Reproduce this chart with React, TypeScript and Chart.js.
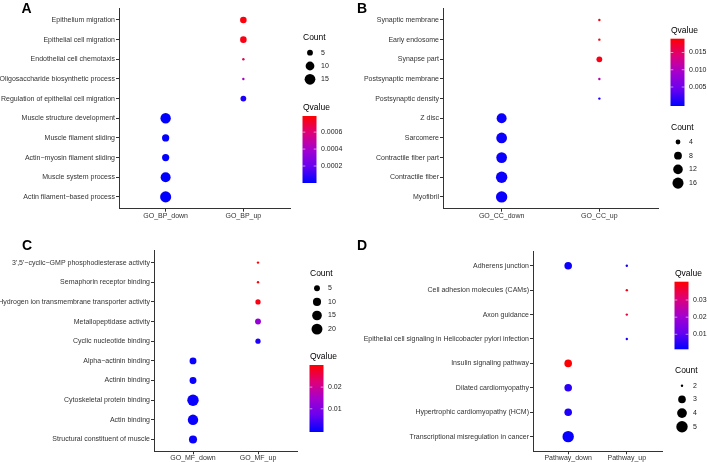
import React, { useEffect, useRef } from "react";
import { Chart, registerables } from "chart.js";
Chart.register(...registerables);

const FONT = "'Liberation Sans', Arial, Helvetica, sans-serif";

// ---------- Panel A : GO BP ----------
const bpTerms = [
  "Epithelium migration",
  "Epithelial cell migration",
  "Endothelial cell chemotaxis",
  "Oligosaccharide biosynthetic process",
  "Regulation of epithelial cell migration",
  "Muscle structure development",
  "Muscle filament sliding",
  "Actin\u2212myosin filament sliding",
  "Muscle system process",
  "Actin filament\u2212based process",
];
const bpGroups = ["GO_BP_down", "GO_BP_up"];
const bpPointTerm = bpTerms;
const bpPointGroup = ["GO_BP_up", "GO_BP_up", "GO_BP_up", "GO_BP_up", "GO_BP_up", "GO_BP_down", "GO_BP_down", "GO_BP_down", "GO_BP_down", "GO_BP_down"];
const bpCount = [6, 6, 3, 3, 5, 14, 7, 7, 13, 16];
const bpQvalue = [0.00077, 0.00076, 0.00066, 0.00040, 0.00005, 0.000002, 0.000003, 0.000004, 0.000002, 0.000001];
const bpCountBreaks = [5, 10, 15];
const bpQBreaks = [0.0002, 0.0004, 0.0006];
const bpQLabels = ["0.0002", "0.0004", "0.0006"];

// ---------- Panel B : GO CC ----------
const ccTerms = [
  "Synaptic membrane",
  "Early endosome",
  "Synapse part",
  "Postsynaptic membrane",
  "Postsynaptic density",
  "Z disc",
  "Sarcomere",
  "Contractile fiber part",
  "Contractile fiber",
  "Myofibril",
];
const ccGroups = ["GO_CC_down", "GO_CC_up"];
const ccPointTerm = ccTerms;
const ccPointGroup = ["GO_CC_up", "GO_CC_up", "GO_CC_up", "GO_CC_up", "GO_CC_up", "GO_CC_down", "GO_CC_down", "GO_CC_down", "GO_CC_down", "GO_CC_down"];
const ccCount = [3, 3, 5, 3, 3, 13, 15, 15, 17, 17];
const ccQvalue = [0.0186, 0.0184, 0.0181, 0.0110, 0.0008, 0.00001, 0.00001, 0.00001, 0.00001, 0.00001];
const ccCountBreaks = [4, 8, 12, 16];
const ccQBreaks = [0.005, 0.01, 0.015];
const ccQLabels = ["0.005", "0.010", "0.015"];

// ---------- Panel C : GO MF ----------
const mfTerms = [
  "3',5'\u2212cyclic\u2212GMP phosphodiesterase activity",
  "Semaphorin receptor binding",
  "Hydrogen ion transmembrane transporter activity",
  "Metallopeptidase activity",
  "Cyclic nucleotide binding",
  "Alpha\u2212actinin binding",
  "Actinin binding",
  "Cytoskeletal protein binding",
  "Actin binding",
  "Structural constituent of muscle",
];
const mfGroups = ["GO_MF_down", "GO_MF_up"];
const mfPointTerm = mfTerms;
const mfPointGroup = ["GO_MF_up", "GO_MF_up", "GO_MF_up", "GO_MF_up", "GO_MF_up", "GO_MF_down", "GO_MF_down", "GO_MF_down", "GO_MF_down", "GO_MF_down"];
const mfCount = [2, 2, 4, 5, 4, 7, 7, 22, 18, 10];
const mfQvalue = [0.0300, 0.0297, 0.0290, 0.0125, 0.0015, 0.00001, 0.00001, 0.000001, 0.000001, 0.00001];
const mfCountBreaks = [5, 10, 15, 20];
const mfQBreaks = [0.01, 0.02];
const mfQLabels = ["0.01", "0.02"];

// ---------- Panel D : Pathway ----------
const pwTerms = [
  "Adherens junction",
  "Cell adhesion molecules (CAMs)",
  "Axon guidance",
  "Epithelial cell signaling in Helicobacter pylori infection",
  "Insulin signaling pathway",
  "Dilated cardiomyopathy",
  "Hypertrophic cardiomyopathy (HCM)",
  "Transcriptional misregulation in cancer",
];
const pwGroups = ["Pathway_down", "Pathway_up"];
const pwPointTerm = [
  "Adherens junction",
  "Adherens junction",
  "Cell adhesion molecules (CAMs)",
  "Axon guidance",
  "Epithelial cell signaling in Helicobacter pylori infection",
  "Insulin signaling pathway",
  "Dilated cardiomyopathy",
  "Hypertrophic cardiomyopathy (HCM)",
  "Transcriptional misregulation in cancer",
];
const pwPointGroup = ["Pathway_down", "Pathway_up", "Pathway_up", "Pathway_up", "Pathway_up", "Pathway_down", "Pathway_down", "Pathway_down", "Pathway_down"];
const pwCount = [3, 2, 2, 2, 2, 3, 3, 3, 5];
const pwQvalue = [0.0025, 0.0030, 0.0392, 0.0355, 0.0032, 0.0405, 0.0052, 0.0040, 0.0020];
const pwCountBreaks = [2, 3, 4, 5];
const pwQBreaks = [0.01, 0.02, 0.03];
const pwQLabels = ["0.01", "0.02", "0.03"];

// ---------- colour / size scales ----------
const STOPS: [number, number[]][] = [
  [0, [0, 0, 255]],
  [0.25, [105, 0, 240]],
  [0.5, [165, 0, 205]],
  [0.75, [222, 0, 120]],
  [1, [255, 0, 0]],
];
function colorAt(t: number) {
  t = Math.max(0, Math.min(1, t));
  for (let i = 1; i < STOPS.length; i++) {
    const [t1, c1] = STOPS[i];
    const [t0, c0] = STOPS[i - 1];
    if (t <= t1) {
      const f = (t - t0) / (t1 - t0);
      const c = c0.map((v, k) => Math.round(v + (c1[k] - v) * f));
      return `rgb(${c[0]},${c[1]},${c[2]})`;
    }
  }
  return "rgb(255,0,0)";
}
const R_MIN = 1.2;
const R_MAX = 5.7;
function radiusOf(c: number, lim: number[]) {
  const f = Math.max(0, Math.min(1, (c - lim[0]) / (lim[1] - lim[0])));
  return R_MIN + (R_MAX - R_MIN) * Math.sqrt(f);
}

type Panel = {
  letter: string;
  letterPos: number[];
  box: { left: number; top: number; width: number; height: number };
  area: { left: number; right: number; top: number; bottom: number };
  terms: string[];
  groups: string[];
  pointTerm: string[];
  pointGroup: string[];
  count: number[];
  qvalue: number[];
  countLim: number[];
  qLim: number[];
  countBreaks: number[];
  qBreaks: number[];
  qLabels: string[];
  legend: {
    x: number;
    count: { titleY: number; firstY: number; step: number };
    q: { titleY: number; top: number; bottom: number };
  };
};

const panels: Panel[] = [
  {
    letter: "A",
    letterPos: [21.5, 12.8],
    box: { left: 0, top: 0, width: 357, height: 228 },
    area: { left: 119, right: 290, top: 8.2, bottom: 208.7 },
    terms: bpTerms, groups: bpGroups, pointTerm: bpPointTerm, pointGroup: bpPointGroup,
    count: bpCount, qvalue: bpQvalue, countLim: [3, 17], qLim: [0, 0.00079],
    countBreaks: bpCountBreaks, qBreaks: bpQBreaks, qLabels: bpQLabels,
    legend: { x: 303, count: { titleY: 38, firstY: 52.7, step: 13.3 }, q: { titleY: 108, top: 116, bottom: 183 } },
  },
  {
    letter: "B",
    letterPos: [357, 12.8],
    box: { left: 357, top: 0, width: 350, height: 228 },
    area: { left: 443, right: 658, top: 8.2, bottom: 208.7 },
    terms: ccTerms, groups: ccGroups, pointTerm: ccPointTerm, pointGroup: ccPointGroup,
    count: ccCount, qvalue: ccQvalue, countLim: [3, 17], qLim: [-0.0005, 0.019],
    countBreaks: ccCountBreaks, qBreaks: ccQBreaks, qLabels: ccQLabels,
    legend: { x: 671, q: { titleY: 31, top: 38.7, bottom: 106 }, count: { titleY: 128, firstY: 142, step: 13.7 } },
  },
  {
    letter: "C",
    letterPos: [22, 249.5],
    box: { left: 0, top: 228, width: 357, height: 234 },
    area: { left: 154, right: 297, top: 250.8, bottom: 451.3 },
    terms: mfTerms, groups: mfGroups, pointTerm: mfPointTerm, pointGroup: mfPointGroup,
    count: mfCount, qvalue: mfQvalue, countLim: [2, 22], qLim: [-0.0007, 0.0302],
    countBreaks: mfCountBreaks, qBreaks: mfQBreaks, qLabels: mfQLabels,
    legend: { x: 310, count: { titleY: 274, firstY: 288.3, step: 13.6 }, q: { titleY: 357, top: 365, bottom: 432 } },
  },
  {
    letter: "D",
    letterPos: [357, 250.3],
    box: { left: 357, top: 228, width: 350, height: 234 },
    area: { left: 533, right: 662, top: 251.1, bottom: 451.3 },
    terms: pwTerms, groups: pwGroups, pointTerm: pwPointTerm, pointGroup: pwPointGroup,
    count: pwCount, qvalue: pwQvalue, countLim: [2, 5], qLim: [0.00124, 0.0407],
    countBreaks: pwCountBreaks, qBreaks: pwQBreaks, qLabels: pwQLabels,
    legend: { x: 675, q: { titleY: 274, top: 281.7, bottom: 349.3 }, count: { titleY: 370.7, firstY: 385.7, step: 13.7 } },
  },
];

function drawLegend(ctx: CanvasRenderingContext2D, p: Panel) {
  const ox = p.box.left;
  const oy = p.box.top;
  const L = p.legend;
  ctx.save();
  ctx.translate(-ox, -oy);
  // panel letter
  ctx.fillStyle = "#000";
  ctx.font = `bold 14px ${FONT}`;
  ctx.textAlign = "left";
  ctx.textBaseline = "alphabetic";
  ctx.fillText(p.letter, p.letterPos[0], p.letterPos[1]);

  // Count legend
  ctx.textBaseline = "middle";
  ctx.font = `8.5px ${FONT}`;
  ctx.fillStyle = "#000";
  ctx.fillText("Count", L.x, L.count.titleY);
  ctx.font = `7px ${FONT}`;
  p.countBreaks.forEach((b, i) => {
    const y = L.count.firstY + i * L.count.step;
    ctx.beginPath();
    ctx.fillStyle = "#000";
    ctx.arc(L.x + 7, y, radiusOf(b, p.countLim), 0, Math.PI * 2);
    ctx.fill();
    ctx.fillStyle = "#1a1a1a";
    ctx.fillText(String(b), L.x + 18, y);
  });

  // Qvalue colourbar
  ctx.font = `8.5px ${FONT}`;
  ctx.fillStyle = "#000";
  ctx.fillText("Qvalue", L.x, L.q.titleY);
  const top = L.q.top;
  const bot = L.q.bottom;
  const grad = ctx.createLinearGradient(0, bot, 0, top);
  for (let k = 0; k <= 20; k++) grad.addColorStop(k / 20, colorAt(k / 20));
  ctx.fillStyle = grad;
  ctx.fillRect(L.x - 0.5, top, 14, bot - top);
  ctx.font = `7px ${FONT}`;
  p.qBreaks.forEach((b, i) => {
    const y = bot - ((b - p.qLim[0]) / (p.qLim[1] - p.qLim[0])) * (bot - top);
    ctx.strokeStyle = "rgba(255,255,255,0.9)";
    ctx.lineWidth = 0.6;
    ctx.beginPath();
    ctx.moveTo(L.x - 0.5, y);
    ctx.lineTo(L.x + 2.3, y);
    ctx.moveTo(L.x + 13.5, y);
    ctx.lineTo(L.x + 10.7, y);
    ctx.stroke();
    ctx.fillStyle = "#1a1a1a";
    ctx.fillText(p.qLabels[i], L.x + 18, y);
  });
  ctx.restore();
}

function PanelChart({ p }: { p: Panel }) {
  const ref = useRef<HTMLCanvasElement | null>(null);
  useEffect(() => {
    if (!ref.current) return;
    const n = p.terms.length;
    const pts = p.pointTerm.map((t, i) => ({
      x: p.groups.indexOf(p.pointGroup[i]) + 1,
      y: n - p.terms.indexOf(t),
      c: p.count[i],
      q: p.qvalue[i],
    }));
    const yW = p.area.left - p.box.left;
    const xH = p.box.top + p.box.height - p.area.bottom;
    const axisColor = "#333333";
    const chart = new Chart(ref.current, {
      type: "scatter",
      data: {
        datasets: [
          {
            data: pts as any,
            pointRadius: (ctx: any) => radiusOf(ctx.raw.c, p.countLim),
            pointHoverRadius: (ctx: any) => radiusOf(ctx.raw.c, p.countLim),
            pointBackgroundColor: (ctx: any) => colorAt((ctx.raw.q - p.qLim[0]) / (p.qLim[1] - p.qLim[0])),
            pointBorderColor: (ctx: any) => colorAt((ctx.raw.q - p.qLim[0]) / (p.qLim[1] - p.qLim[0])),
            pointBorderWidth: 0,
            clip: false as any,
          },
        ],
      },
      options: {
        responsive: false,
        animation: false,
        devicePixelRatio: 1,
        events: [],
        layout: {
          padding: {
            left: 0,
            top: p.area.top - p.box.top,
            right: p.box.left + p.box.width - p.area.right,
            bottom: 0,
          },
        },
        plugins: { legend: { display: false }, tooltip: { enabled: false } },
        scales: {
          x: {
            type: "linear",
            min: 0.4,
            max: 2.6,
            afterBuildTicks: (s: any) => {
              s.ticks = p.groups.map((_, i) => ({ value: i + 1 }));
            },
            afterFit: (s: any) => {
              s.height = xH;
            },
            ticks: {
              autoSkip: false,
              maxRotation: 0,
              padding: 0,
              color: "#333333",
              font: { family: FONT, size: 7 },
              callback: (v: any) => p.groups[Math.round(Number(v)) - 1] ?? "",
            },
            grid: { display: true, drawOnChartArea: false, drawTicks: true, tickLength: 3, color: axisColor, lineWidth: 1 },
            border: { display: true, color: axisColor, width: 1 },
          },
          y: {
            type: "linear",
            min: 0.4,
            max: n + 0.6,
            afterBuildTicks: (s: any) => {
              s.ticks = p.terms.map((_, i) => ({ value: i + 1 }));
            },
            afterFit: (s: any) => {
              s.width = yW;
            },
            ticks: {
              autoSkip: false,
              padding: 1,
              color: "#333333",
              font: { family: FONT, size: 7 },
              callback: (v: any) => p.terms[n - Math.round(Number(v))] ?? "",
            },
            grid: { display: true, drawOnChartArea: false, drawTicks: true, tickLength: 3, color: axisColor, lineWidth: 1 },
            border: { display: true, color: axisColor, width: 1 },
          },
        },
      },
      plugins: [
        {
          id: "panelLegend",
          afterDraw: (chart: any) => drawLegend(chart.ctx, p),
        },
      ],
    } as any);
    return () => chart.destroy();
  }, [p]);
  return (
    <canvas
      ref={ref}
      width={p.box.width}
      height={p.box.height}
      style={{ position: "absolute", left: p.box.left, top: p.box.top, width: p.box.width, height: p.box.height }}
    />
  );
}

export default function App() {
  return (
    <div style={{ position: "absolute", left: 0, top: 0, width: 707, height: 462, background: "#fff", overflow: "hidden" }}>
      {panels.map((p) => (
        <PanelChart key={p.letter} p={p} />
      ))}
    </div>
  );
}
